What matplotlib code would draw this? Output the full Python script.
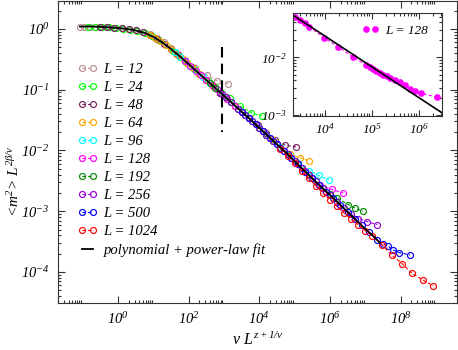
import numpy as np
import matplotlib
matplotlib.use('Agg')
import matplotlib.pyplot as plt
from matplotlib.ticker import FixedLocator, NullFormatter

plt.rcParams['font.family'] = 'Liberation Serif'
plt.rcParams['font.style'] = 'italic'
plt.rcParams['mathtext.fontset'] = 'custom'
plt.rcParams['mathtext.rm'] = 'Liberation Serif:italic'
plt.rcParams['mathtext.it'] = 'Liberation Serif:italic'

# data, as log10 values
sizes = ['12', '24', '48', '64', '96', '128', '192', '256', '500', '1024']
colors = ['#bc8f8f', '#00ff00', '#7a2060', '#ffa500', '#00ffff',
          '#ff00ff', '#008b00', '#9400d3', '#0000ff', '#ff0000']

lx_12 = [-1.08, -0.95, -0.8, -0.65, -0.5, -0.3, -0.1, 0.1, 0.3, 0.5, 0.7, 0.9, 1.1,
         1.3, 1.5, 1.7, 1.9, 2.18, 2.51, 2.80, 3.12]
ly_12 = [0.04, 0.04, 0.04, 0.04, 0.035, 0.03, 0.02, 0.01, -0.005, -0.025, -0.05, -0.09,
         -0.15, -0.22, -0.31, -0.41, -0.51, -0.65, -0.76, -0.85, -0.90]

lx_24 = [-0.85, -0.65, -0.45, -0.25, -0.05, 0.15, 0.35, 0.55, 0.75, 0.95, 1.15, 1.35,
         1.55, 1.75, 1.95, 2.15, 2.35, 2.55, 2.75, 2.95, 3.17, 3.46, 3.78, 4.07]
ly_24 = [0.04, 0.04, 0.033, 0.026, 0.018, 0.007, -0.01, -0.03, -0.065, -0.115, -0.18,
         -0.26, -0.355, -0.455, -0.555, -0.655, -0.76, -0.86, -0.96, -1.06, -1.14,
         -1.27, -1.38, -1.43]

lx_48 = [-0.5, -0.3, -0.1, 0.1, 0.3, 0.5, 0.7, 0.9, 1.1, 1.3, 1.5, 1.7, 1.9, 2.1, 2.3,
         2.5, 2.7, 2.9, 3.1, 3.3, 3.5, 3.7, 3.95, 4.2, 4.45, 4.73, 5.04]
ly_48 = [0.035, 0.028, 0.02, 0.01, -0.005, -0.025, -0.055, -0.10, -0.16, -0.24, -0.33,
         -0.43, -0.53, -0.63, -0.74, -0.84, -0.94, -1.05, -1.15, -1.26, -1.36, -1.46,
         -1.58, -1.72, -1.83, -1.91, -1.94]

lx_64 = [0.9, 1.05, 1.2, 1.35, 1.5, 1.65, 1.8, 1.95, 2.1, 2.3, 2.5, 2.7, 2.9, 3.1, 3.3,
         3.5, 3.7, 3.9, 4.1, 4.35, 4.6, 4.87, 5.14, 5.42]
ly_64 = [-0.10, -0.145, -0.20, -0.26, -0.33, -0.405, -0.48, -0.555, -0.63, -0.74, -0.84,
         -0.94, -1.05, -1.15, -1.26, -1.36, -1.47, -1.57, -1.68, -1.81, -1.95, -2.06,
         -2.12, -2.17]

lx_96 = [1.6, 1.75, 1.9, 2.05, 2.2, 2.4, 2.6, 2.8, 3.0, 3.2, 3.4, 3.6, 3.8, 4.0, 4.2,
         4.4, 4.6, 4.85, 5.1, 5.4, 5.68, 5.97]
ly_96 = [-0.38, -0.455, -0.53, -0.605, -0.685, -0.79, -0.89, -0.99, -1.10, -1.21, -1.31,
         -1.42, -1.52, -1.63, -1.74, -1.85, -1.95, -2.08, -2.21, -2.33, -2.41, -2.48]

lx_128 = [1.9, 2.05, 2.2, 2.35, 2.5, 2.65, 2.8, 2.95, 3.1, 3.3, 3.5, 3.7, 3.9, 4.1, 4.3,
          4.5, 4.7, 4.9, 5.1, 5.3, 5.5, 5.72, 6.05, 6.38]
ly_128 = [-0.53, -0.605, -0.685, -0.765, -0.84, -0.915, -0.99, -1.075, -1.15, -1.26,
          -1.36, -1.47, -1.57, -1.68, -1.79, -1.90, -2.01, -2.12, -2.23, -2.34, -2.45,
          -2.57, -2.64, -2.70]

lx_192 = [2.6, 2.75, 2.9, 3.05, 3.2, 3.4, 3.6, 3.8, 4.0, 4.2, 4.4, 4.6, 4.8, 5.0, 5.2,
          5.4, 5.6, 5.8, 6.0, 6.2, 6.52, 6.72, 6.93]
ly_192 = [-0.89, -0.965, -1.05, -1.125, -1.20, -1.31, -1.42, -1.52, -1.63, -1.74, -1.85,
          -1.96, -2.06, -2.17, -2.29, -2.40, -2.51, -2.61, -2.71, -2.78, -2.89, -2.95,
          -3.0]

lx_256 = [2.9, 3.05, 3.2, 3.4, 3.6, 3.8, 4.0, 4.2, 4.4, 4.6, 4.8, 5.0, 5.2, 5.4, 5.6,
          5.8, 6.0, 6.2, 6.4, 6.6, 6.8, 7.05, 7.34]
ly_256 = [-1.05, -1.125, -1.20, -1.31, -1.42, -1.52, -1.63, -1.74, -1.85, -1.96, -2.06,
          -2.17, -2.29, -2.40, -2.51, -2.62, -2.73, -2.84, -2.95, -3.05, -3.12, -3.17,
          -3.22]

lx_500 = [3.5, 3.7, 3.9, 4.1, 4.3, 4.5, 4.7, 4.9, 5.1, 5.3, 5.5, 5.7, 5.9, 6.1, 6.3,
          6.5, 6.7, 6.9, 7.1, 7.33, 7.51, 7.66, 7.80, 7.97, 8.27]
ly_500 = [-1.36, -1.47, -1.57, -1.68, -1.79, -1.90, -2.01, -2.12, -2.23, -2.35, -2.46,
          -2.57, -2.68, -2.79, -2.90, -3.01, -3.12, -3.23, -3.34, -3.47, -3.54, -3.58,
          -3.64, -3.68, -3.72]

lx_1024 = [4.6, 4.8, 5.0, 5.2, 5.4, 5.6, 5.8, 6.0, 6.2, 6.4, 6.6, 6.8, 7.0, 7.2, 7.47,
           7.75, 8.04, 8.32, 8.63, 8.93]
ly_1024 = [-1.97, -2.09, -2.21, -2.33, -2.46, -2.58, -2.70, -2.81, -2.92, -3.03, -3.13,
           -3.22, -3.32, -3.40, -3.55, -3.72, -3.86, -4.02, -4.13, -4.23]

all_lx = [lx_12, lx_24, lx_48, lx_64, lx_96, lx_128, lx_192, lx_256, lx_500, lx_1024]
all_ly = [ly_12, ly_24, ly_48, ly_64, ly_96, ly_128, ly_192, ly_256, ly_500, ly_1024]

# polynomial + power-law fit curve
fit_lx = [-1.08, -0.75, -0.5, -0.25, 0.0, 0.25, 0.5, 0.75, 1.0, 1.25, 1.5, 1.75, 2.0,
          2.25, 2.5, 2.75, 3.0, 3.25, 3.5, 3.75, 4.0, 4.25, 4.5, 4.75, 5.0, 5.25, 5.5,
          5.75, 6.0, 6.25, 6.5, 6.75, 7.0, 7.25, 7.42]
fit_ly = [0.04, 0.04, 0.035, 0.025, 0.015, 0.0, -0.025, -0.065, -0.13, -0.22, -0.33,
          -0.45, -0.58, -0.71, -0.84, -0.97, -1.10, -1.23, -1.36, -1.49, -1.63, -1.76,
          -1.90, -2.03, -2.18, -2.32, -2.46, -2.60, -2.73, -2.87, -3.01, -3.15, -3.29,
          -3.42, -3.52]

vline_x = 870
vline_y = [0.5, 0.0205]

# inset: L = 128
ins_lx = [3.37, 3.47, 3.58, 3.67, 3.99, 4.29, 4.60, 4.89, 4.96, 5.03, 5.10, 5.18, 5.25,
          5.32, 5.40, 5.50, 5.60, 5.71, 5.81, 5.92, 6.05, 6.40]
ins_ly = [-1.31, -1.36, -1.41, -1.47, -1.66, -1.82, -1.99, -2.14, -2.17, -2.21, -2.24,
          -2.27, -2.30, -2.33, -2.36, -2.39, -2.43, -2.48, -2.54, -2.58, -2.62, -2.69]
ins_fit_x = [2.1e3, 3.1e6]
ins_fit_y = [5.4e-2, 1.11e-3]

fig = plt.figure(figsize=(4.58, 3.5), dpi=100)
ax = fig.add_axes([58 / 458, 1 - 303 / 350, 399 / 458, 302 / 350])

for lab, lx, ly, col in zip(sizes, all_lx, all_ly, colors):
    ax.plot(10 ** np.array(lx), 10 ** np.array(ly), ls=(0, (3, 2)), lw=0.8, color=col,
            marker='o', ms=4.3, mfc='none', mec=col, mew=0.85, label='L = ' + lab)
ax.plot(10 ** np.array(fit_lx), 10 ** np.array(fit_ly), color='k', lw=1.3,
        label='polynomial + power-law fit')
ax.plot([vline_x, vline_x], vline_y, color='k', lw=1.5, dashes=(5, 3))

ax.set_xscale('log')
ax.set_yscale('log')
ax.set_xlim(10 ** -1.7, 10 ** 9.6)
ax.set_ylim(10 ** -4.51, 10 ** 0.46)

ax.xaxis.set_major_locator(FixedLocator([1e0, 1e2, 1e4, 1e6, 1e8]))
ax.set_xticklabels(['$10^{0}$', '$10^{2}$', '$10^{4}$', '$10^{6}$', '$10^{8}$'])
ax.xaxis.set_minor_locator(FixedLocator([k * 10.0 ** d for d in (-2, 0, 2, 4, 6, 8)
                                         for k in range(2, 10)]))
ax.xaxis.set_minor_formatter(NullFormatter())
ax.yaxis.set_major_locator(FixedLocator([1e-4, 1e-3, 1e-2, 1e-1, 1e0]))
ax.set_yticklabels(['$10^{-4}$', '$10^{-3}$', '$10^{-2}$', '$10^{-1}$', '$10^{0}$'])
ax.yaxis.set_minor_locator(FixedLocator([k * 10.0 ** d for d in range(-5, 1)
                                         for k in range(2, 10)]))
ax.yaxis.set_minor_formatter(NullFormatter())
ax.tick_params(which='both', direction='in', top=True, right=True, width=0.8,
               labelsize=10.5, colors='#333333', labelcolor='k')
ax.tick_params(which='major', length=5, pad=6)
ax.tick_params(which='minor', length=2.5)
for s in ax.spines.values():
    s.set_linewidth(0.8)
    s.set_color('#333333')

ax.legend(loc='upper left', bbox_to_anchor=(0.05, 0.795), frameon=False, numpoints=2,
          handlelength=1.3, handletextpad=0.45, labelspacing=0.33, borderpad=0,
          borderaxespad=0, fontsize=10.5)

fig.text(14 / 458, 1 - 181 / 350, r'<$m^2$> $L^{2\beta/\nu}$', rotation=90,
         ha='center', va='center', fontsize=11)
fig.text(258 / 458, 1 - 340 / 350, r'v $L^{z+1/\nu}$', ha='center', va='center',
         fontsize=11.5)

# inset
axi = fig.add_axes([292.7 / 458, 1 - 116 / 350, 149 / 458, 103.3 / 350])
axi.plot(10 ** np.array(ins_lx), 10 ** np.array(ins_ly), ls=(0, (3, 2)), lw=0.8,
         color='#ff00ff', marker='o', ms=3.8, mfc='#ff00ff', mec='#ff00ff',
         label='L = 128')
axi.plot(ins_fit_x, ins_fit_y, color='k', lw=1.2)
axi.set_xscale('log')
axi.set_yscale('log')
axi.set_xlim(2.1e3, 3.1e6)
axi.set_ylim(9.7e-4, 0.059)
axi.xaxis.set_major_locator(FixedLocator([1e4, 1e5, 1e6]))
axi.set_xticklabels(['$10^{4}$', '$10^{5}$', '$10^{6}$'])
axi.xaxis.set_minor_locator(FixedLocator([k * 10.0 ** d for d in range(3, 7)
                                          for k in range(2, 10)]))
axi.xaxis.set_minor_formatter(NullFormatter())
axi.yaxis.set_major_locator(FixedLocator([1e-3, 1e-2]))
axi.set_yticklabels(['$10^{-3}$', '$10^{-2}$'])
axi.yaxis.set_minor_locator(FixedLocator([k * 10.0 ** d for d in range(-4, -1)
                                          for k in range(2, 10)]))
axi.yaxis.set_minor_formatter(NullFormatter())
axi.tick_params(which='both', direction='in', top=True, right=True, width=0.8,
                labelsize=9.5, colors='#333333', labelcolor='k')
axi.tick_params(which='major', length=4, pad=4)
axi.tick_params(which='minor', length=2)
for s in axi.spines.values():
    s.set_linewidth(0.8)
    s.set_color('#333333')
axi.legend(loc='upper right', bbox_to_anchor=(0.91, 0.885), frameon=False, numpoints=2,
           handlelength=1.3, handletextpad=0.5, fontsize=9.5, borderpad=0,
           borderaxespad=0)

fig.savefig('out.png', dpi=100)
